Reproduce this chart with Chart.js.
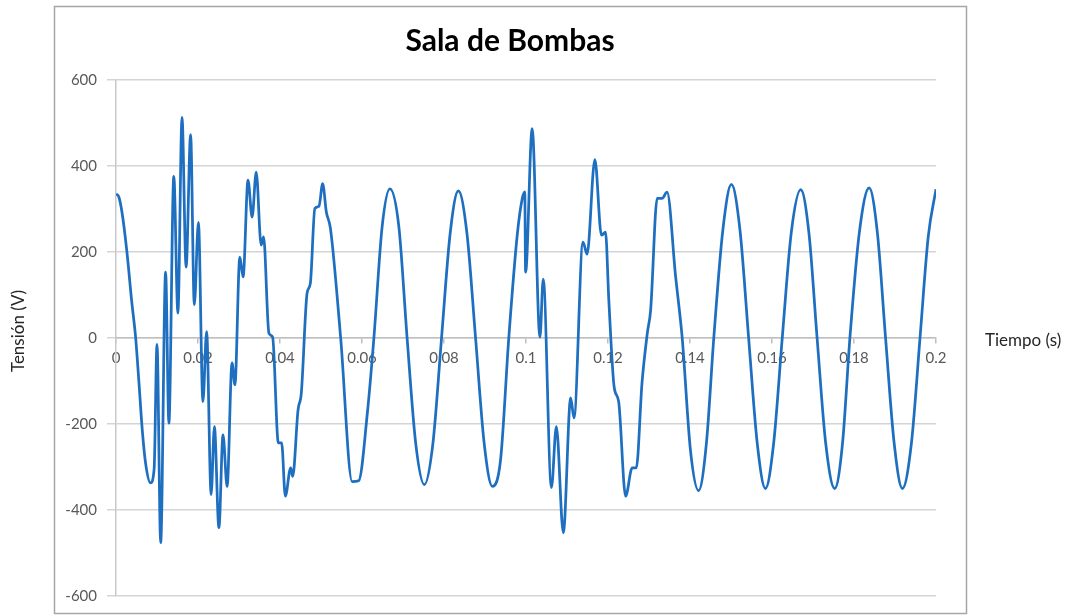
<!DOCTYPE html>
<html>
<head>
<meta charset="utf-8">
<title>Sala de Bombas</title>
<script src="https://cdn.jsdelivr.net/npm/chart.js@4.4.0/dist/chart.umd.min.js"></script>
<style>
  html, body { margin: 0; padding: 0; background: #fff; }
  #grafico { display: block; }
</style>
</head>
<body>
<canvas id="grafico" width="1076" height="615"></canvas>
<script>
// Tiempo (s)
const tiempo = [
  0.0000, 0.0007, 0.0015, 0.0027, 0.0038, 0.0048, 0.0056, 0.0064, 0.0072, 0.0084,
  0.0093, 0.0100, 0.0109, 0.0121, 0.0129, 0.0141, 0.0151, 0.0161, 0.0171, 0.0182,
  0.0191, 0.0201, 0.0212, 0.0221, 0.0232, 0.0240, 0.0251, 0.0261, 0.0271, 0.0283,
  0.0290, 0.0302, 0.0310, 0.0322, 0.0332, 0.0342, 0.0354, 0.0360, 0.0373, 0.0382,
  0.0396, 0.0404, 0.0413, 0.0426, 0.0431, 0.0444, 0.0452, 0.0466, 0.0474, 0.0485,
  0.0495, 0.0504, 0.0513, 0.0523, 0.0548, 0.0576, 0.0592, 0.0613, 0.0629, 0.0649,
  0.0668, 0.0690, 0.0710, 0.0731, 0.0752, 0.0773, 0.0794, 0.0815, 0.0835, 0.0856,
  0.0877, 0.0898, 0.0918, 0.0938, 0.0958, 0.0979, 0.0991, 0.0997, 0.0999, 0.1015,
  0.1034, 0.1042, 0.1062, 0.1074, 0.1091, 0.1109, 0.1117, 0.1139, 0.1149, 0.1168,
  0.1184, 0.1194, 0.1202, 0.1215, 0.1226, 0.1243, 0.1259, 0.1269, 0.1283, 0.1296,
  0.1304, 0.1320, 0.1332, 0.1344, 0.1365, 0.1381, 0.1401, 0.1421, 0.1440, 0.1458,
  0.1480, 0.1501, 0.1522, 0.1543, 0.1564, 0.1584, 0.1604, 0.1625, 0.1647, 0.1670,
  0.1690, 0.1710, 0.1731, 0.1753, 0.1772, 0.1790, 0.1813, 0.1837, 0.1857, 0.1877,
  0.1898, 0.1918, 0.1940, 0.1961, 0.1981, 0.2000
];

// Tensión (V)
const tension = [
  335, 328, 290, 197, 88, 0, -104, -213, -290, -337,
  -305, -15, -476, 153, -198, 376, 58, 513, 165, 473,
  77, 269, -148, 15, -364, -206, -441, -225, -345, -58,
  -109, 188, 142, 367, 281, 386, 216, 235, 11, 2,
  -244, -244, -368, -302, -322, -167, -128, 104, 127, 301,
  306, 359, 293, 255, 0, -334, -332, -175, 0, 258,
  347, 258, 0, -245, -341, -245, 0, 243, 342, 243,
  0, -245, -345, -283, 0, 243, 325, 340, 153, 487,
  2, 137, -348, -206, -453, -139, -186, 223, 195, 415,
  239, 246, 88, -114, -148, -368, -302, -302, -104, 12,
  65, 325, 325, 339, 142, 0, -260, -355, -245, 0,
  250, 357, 250, 0, -245, -350, -245, 0, 245, 345,
  245, 0, -245, -350, -245, 0, 245, 349, 245, 0,
  -245, -350, -245, 0, 235, 346
];

// axis ranges and ticks
const ejeX = { min: 0, max: 0.2, paso: 0.02 };
const ejeY = { min: -600, max: 600, paso: 200 };

const serie = tiempo.map((t, i) => ({ x: t, y: tension[i] }));

// frame around the chart plus the two axis titles (placed like the Excel original)
const marcoPlugin = {
  id: "marco",
  beforeDraw: (chart) => {
    const ctx = chart.ctx;
    ctx.save();
    ctx.fillStyle = "#ffffff";
    ctx.fillRect(0, 0, chart.width, chart.height);
    ctx.strokeStyle = "#a6a6a6";
    ctx.lineWidth = 1.5;
    ctx.strokeRect(54.5, 6.5, 912, 607);
    ctx.restore();
  },
  afterDraw: (chart) => {
    const ctx = chart.ctx;
    ctx.save();
    ctx.fillStyle = "#262626";
    ctx.font = "17px Lato";
    ctx.textBaseline = "middle";
    ctx.textAlign = "left";
    ctx.fillText("Tiempo (s)", 985, 341);
    ctx.translate(19, 331);
    ctx.rotate(-Math.PI / 2);
    ctx.textAlign = "center";
    ctx.fillText("Tensión (V)", 0, 0);
    ctx.restore();
  },
};

new Chart(document.querySelector("#grafico"), {
  type: "line",
  data: {
    datasets: [
      {
        label: "Tensión",
        data: serie,
        borderColor: "#1e6fc0",
        borderWidth: 2.75,
        pointRadius: 0,
        cubicInterpolationMode: "monotone",
        fill: false,
      },
    ],
  },
  options: {
    responsive: false,
    animation: false,
    devicePixelRatio: 1,
    layout: {
      // right padding keeps the title centred over the frame (x ~ 510)
      padding: { top: 0, left: 0, right: 56, bottom: 19 },
    },
    scales: {
      x: {
        type: "linear",
        position: { y: 0 }, // axis sits on the zero line
        min: ejeX.min,
        max: ejeX.max,
        ticks: {
          stepSize: ejeX.paso,
          maxRotation: 0,
          autoSkip: false,
          padding: 6,
          color: "#595959",
          font: { family: "Lato", size: 15 },
          callback: (value) => String(Number(value.toFixed(2))),
        },
        grid: {
          drawOnChartArea: false,
          drawTicks: true,
          tickLength: 5,
          color: "#bfbfbf",
          lineWidth: 1.5,
        },
        border: { display: true, color: "#bfbfbf", width: 1.5 },
      },
      y: {
        min: ejeY.min,
        max: ejeY.max,
        afterFit: (scale) => {
          scale.width = 116; // vertical axis at x = 116
        },
        ticks: {
          stepSize: ejeY.paso,
          padding: 10,
          color: "#595959",
          font: { family: "Lato", size: 15 },
        },
        grid: {
          color: "#d4d4d4",
          lineWidth: 1.5,
          tickLength: 9,
        },
        border: { display: true, color: "#c8c8c8", width: 1.5 },
      },
      // empty right-hand box: leaves room for the "Tiempo (s)" label
      margen: {
        type: "linear",
        position: "right",
        afterFit: (scale) => {
          scale.width = 84;
        },
        ticks: { display: false },
        grid: { display: false },
        border: { display: false },
      },
    },
    plugins: {
      legend: { display: false },
      tooltip: { enabled: false },
      title: {
        display: true,
        text: "Sala de Bombas",
        color: "#000000",
        font: { family: "Lato", size: 30, weight: "bold" },
        padding: { top: 23, bottom: 21 },
      },
    },
  },
  plugins: [marcoPlugin],
});
</script>
</body>
</html>
